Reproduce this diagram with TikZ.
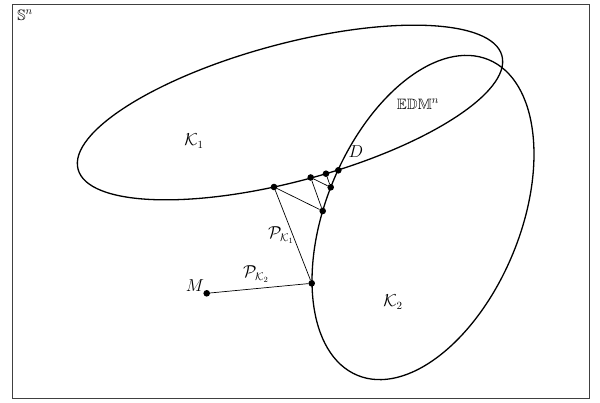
\documentclass[tikz,border=0pt]{standalone}
\usepackage{amsmath,amssymb}
\begin{document}
\begin{tikzpicture}[x=1pt,y=1pt,
  framebox/.style={draw=black!75,line width=0.9pt},
  setline/.style={line width=1.3pt},
  projline/.style={line width=0.7pt},
  dot/.style={circle,fill=black,inner sep=0pt,minimum size=6.6pt},
  lab/.style={inner sep=0pt,font=\fontsize{16}{19}\selectfont},
  smalllab/.style={inner sep=0pt,font=\fontsize{15}{18}\selectfont}]
\useasboundingbox (0,0) rectangle (600,-402);
\fill[white] (0,0) rectangle (600,-402);
\draw[framebox] (12,-4.5) rectangle (589.5,-398.5);
% sets
\draw[setline,rotate around={15:(290,-112.5)}] (290,-112.5) ellipse [x radius=219.4pt, y radius=68.7pt];
\draw[setline,rotate around={67.4:(423,-217.5)}] (423,-217.5) ellipse [x radius=170.9pt, y radius=96.9pt];
% points
\node[dot] (m)  at (206.7,-293.3) {};
\node[dot] (q1) at (311.7,-283.3) {};
\node[dot] (r1) at (274,-187) {};
\node[dot] (q2) at (322.7,-211) {};
\node[dot] (r2) at (310.7,-177.5) {};
\node[dot] (q3) at (330.7,-187.3) {};
\node[dot] (r3) at (326,-173.7) {};
\node[dot] (d)  at (338.3,-170.3) {};
% projections
\draw[projline] (m) -- (q1);
\draw[projline] (q1) -- (r1);
\draw[projline] (r1) -- (q2);
\draw[projline] (q2) -- (r2);
\draw[projline] (r2) -- (q3);
\draw[projline] (q3) -- (r3);
% labels
\node[smalllab] (sn) at (25,-15) {$\mathbb{S}^n$};
\node[lab] (k1) at (194,-141) {$\mathcal{K}_1$};
\node[lab] (k2) at (393,-302) {$\mathcal{K}_2$};
\node[smalllab] (edm) at (418,-104) {$\mathbb{EDM}^n$};
\node[lab] (dl) at (356,-152) {$D$};
\node[lab] (ml) at (195,-285.5) {$M$};
\node[lab] (pk1) at (281,-235) {$\mathcal{P}_{\mathcal{K}_1}$};
\node[lab] (pk2) at (256,-274) {$\mathcal{P}_{\mathcal{K}_2}$};
\end{tikzpicture}
\end{document}
